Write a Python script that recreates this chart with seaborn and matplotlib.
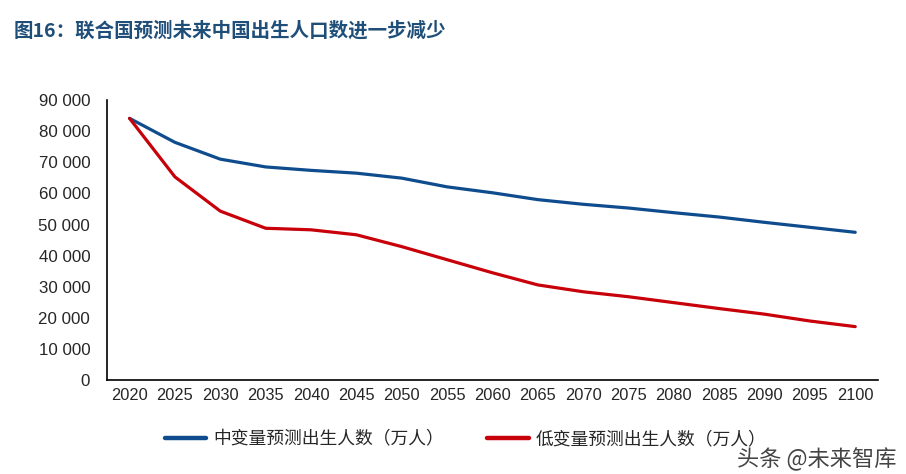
import matplotlib.pyplot as plt
import pandas as pd
import seaborn as sns

# 联合国预测: 中国出生人口 (万人)
years = ['2020', '2025', '2030', '2035', '2040', '2045', '2050', '2055', '2060',
         '2065', '2070', '2075', '2080', '2085', '2090', '2095', '2100']
mid_births = [84100, 76400, 71000, 68500, 67400, 66500, 64900, 62100, 60200,
              58000, 56500, 55300, 53800, 52400, 50700, 49100, 47500]
low_births = [84100, 65300, 54300, 48800, 48300, 46700, 42900, 38700, 34500,
              30600, 28400, 26800, 24900, 23000, 21200, 19000, 17200]
series_names = ['中变量预测出生人数（万人）', '低变量预测出生人数（万人）']
line_colors = ['#0E4C8E', '#C8000A']

df = pd.DataFrame({
    'year': years * 2,
    'births': mid_births + low_births,
    'series': [series_names[0]] * len(years) + [series_names[1]] * len(years),
})
df['x'] = list(range(len(years))) * 2

sns.set_style('white')
plt.rcParams['font.family'] = ['Noto Sans CJK SC', 'DejaVu Sans']

fig = plt.figure(figsize=(9.06, 4.74), dpi=100)
ax = fig.add_axes([0.118, 0.198, 0.851, 0.591])

sns.lineplot(data=df, x='x', y='births', hue='series', palette=line_colors,
             linewidth=2.3, ax=ax, legend=False)

ax.set_xlim(-0.5, len(years) - 0.5)
ax.set_ylim(0, 90000)
ax.set_yticks(range(0, 90001, 10000))
ax.set_yticklabels([f'{v:,}'.replace(',', ' ') for v in range(0, 90001, 10000)],
                   family=['Liberation Sans'], fontsize=12.2)
ax.set_xticks(range(len(years)))
ax.set_xticklabels(years, family=['Liberation Sans'], fontsize=11.8)
ax.tick_params(axis='y', direction='in', length=4, width=1, color='black', pad=12)
ax.tick_params(axis='x', length=0, pad=6)
ax.set_xlabel('')
ax.set_ylabel('')
for side in ['top', 'right']:
    ax.spines[side].set_visible(False)
for side in ['left', 'bottom']:
    ax.spines[side].set_color('black')
    ax.spines[side].set_linewidth(1.2)

# 标题
fig.text(0.015, 0.935, '图16：联合国预测未来中国出生人口数进一步减少',
         fontsize=14, fontweight='heavy', color='#1F4E79', va='center')

# 图例
handles = [plt.Line2D([], [], color=c, linewidth=3.2) for c in line_colors]
fig.legend(handles, series_names, loc='center', bbox_to_anchor=(0.514, 0.073),
           ncol=2, frameon=False, handlelength=2.35,
           columnspacing=2.4, handletextpad=0.4,
           prop={'family': ['Noto Sans CJK SC'], 'weight': 'light', 'size': 12.8})

# 水印
fig.text(0.99, 0.03, '头条 @未来智库', fontsize=16, color='#444444',
         ha='right', va='center')

fig.savefig('out.png', dpi=100)
